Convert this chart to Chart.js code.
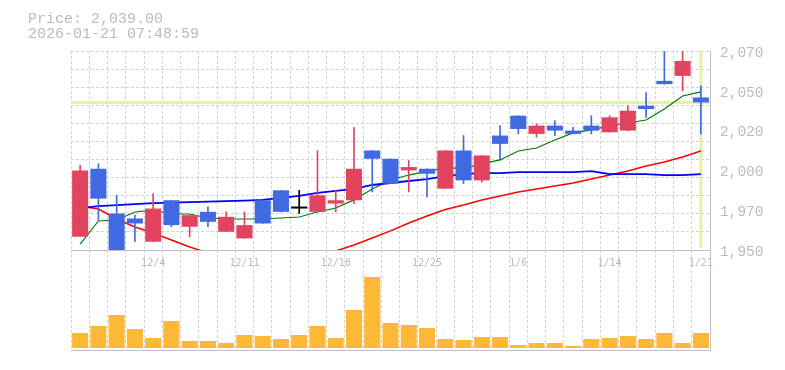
<!DOCTYPE html>
<html>
<head>
<meta charset="utf-8">
<script src="https://cdn.jsdelivr.net/npm/chart.js@4.4.1/dist/chart.umd.min.js"></script>
<style>
  body { margin: 0; background: #fff; }
  #wrap { position: relative; width: 785px; height: 370px; overflow: hidden; }
  #wrap canvas { position: absolute; left: 0; top: 0; }
  .info { position: absolute; left: 28px; font: 15px/15px "Liberation Mono", monospace; color: #bbb; white-space: pre; }
</style>
</head>
<body>
<div id="wrap">
  <canvas id="volChart" width="785" height="370"></canvas>
  <canvas id="priceChart" width="785" height="275"></canvas>
  <div class="info" style="top:12px">Price: 2,039.00</div>
  <div class="info" style="top:27px">2026-01-21 07:48:59</div>
</div>
<script>
// 日付 (営業日)
var dates = ['11/28', '12/1', '12/2', '12/3', '12/4', '12/5', '12/8', '12/9', '12/10', '12/11',
  '12/12', '12/15', '12/16', '12/17', '12/18', '12/19', '12/22', '12/23', '12/24', '12/25',
  '12/26', '12/29', '12/30', '1/5', '1/6', '1/7', '1/8', '1/9', '1/13', '1/14',
  '1/15', '1/16', '1/19', '1/20', '1/21'];
var xTickLabels = ['12/4', '12/11', '12/18', '12/25', '1/6', '1/14', '1/21'];

// 四本値
var openPrices = [1958, 1999, 1972, 1969, 1955, 1980, 1964, 1973, 1961, 1957,
  1980, 1986, 1975, 1973, 1978, 1980, 2010, 2005, 1998, 1999,
  1987, 2010, 1992, 2019, 2031, 2020, 2025, 2022, 2025, 2021,
  2022, 2037, 2052, 2055, 2042];
var highPrices = [2001, 2002, 1983, 1971, 1984, 1980, 1971, 1976, 1973, 1973,
  1980, 1986, 1986, 2010, 1986, 2024, 2010, 2005, 2004, 1999,
  2010, 2019, 2007, 2025, 2031, 2026, 2028, 2024, 2031, 2031,
  2037, 2045, 2078, 2078, 2049];
var lowPrices = [1958, 1968, 1945, 1955, 1955, 1964, 1958, 1964, 1961, 1957,
  1966, 1973, 1972, 1973, 1973, 1978, 1985, 1990, 1985, 1982,
  1987, 1990, 1991, 2004, 2020, 2018, 2019, 2020, 2020, 2021,
  2022, 2030, 2050, 2046, 2020];
var closePrices = [1998, 1981, 1948, 1966, 1975, 1965, 1971, 1967, 1970, 1965,
  1966, 1973, 1975, 1983, 1980, 1999, 2005, 1990, 2000, 1996,
  2010, 1992, 2007, 2014, 2023, 2025, 2022, 2020, 2022, 2030,
  2034, 2035, 2050, 2064, 2039];

// 移動平均
var maShort = [1953.6, 1967.5, 1968.1, 1972.9, 1974.1, 1971.7, 1971.7, 1969.3, 1968.7, 1968.7,
  1968.7, 1969.3, 1969.9, 1972.9, 1975.3, 1980.2, 1986.8, 1992.2, 1995.2, 1997.6,
  1999.4, 1999.4, 2001.9, 2004.3, 2009.7, 2011.5, 2016.3, 2020.6, 2022.4, 2024.8,
  2026.6, 2028.4, 2035.0, 2042.9, 2045.3];
var maMid = [1976.5, 1974.7, 1968.7, 1963.9, 1960.3, 1956.0, 1951.8, 1948.2, 1946.4, 1945.2,
  1944.6, 1944.6, 1945.2, 1946.4, 1949.4, 1953.0, 1957.2, 1961.5, 1966.3, 1970.5,
  1974.4, 1977.1, 1980.2, 1982.6, 1985.0, 1986.8, 1988.6, 1990.4, 1992.8, 1995.2,
  1997.6, 2000.7, 2003.1, 2006.1, 2009.7];
var maLong = [1975.3, 1976.5, 1977.1, 1977.7, 1978.3, 1978.6, 1978.9, 1979.2, 1979.5, 1979.8,
  1980.2, 1981.4, 1982.6, 1984.4, 1985.6, 1986.8, 1989.2, 1990.4, 1991.6, 1992.8,
  1994.6, 1995.8, 1996.4, 1996.4, 1997.0, 1997.0, 1997.0, 1997.0, 1997.6, 1995.8,
  1995.8, 1995.8, 1995.2, 1995.2, 1995.8];

// 出来高
var volumes = [1500, 2200, 3300, 1900, 1000, 2700, 700, 700, 500, 1300,
  1200, 900, 1300, 2200, 1000, 3800, 7100, 2500, 2300, 2000,
  900, 800, 1100, 1100, 300, 500, 500, 200, 900, 1000,
  1200, 900, 1500, 500, 1500];

// 縦軸の目盛
var yTickValues = [1950, 1974, 1998, 2022, 2046, 2070];
var yTickLabels = ['1,950', '1,970', '2,000', '2,020', '2,050', '2,070'];
var currentPrice = 2039;

var upColor = '#e2445f';
var downColor = '#4169e1';
var dojiColor = '#000000';
var gridColor = '#d3d3d3';
var axisColor = '#c0c0c0';
var labelColor = '#bbbbbb';
var markerColor = '#e2f3a6';
var volColor = '#fdb836';

var candleColors = closePrices.map(function (c, i) {
  if (c > openPrices[i]) return upColor;
  if (c < openPrices[i]) return downColor;
  return dojiColor;
});
var wickData = lowPrices.map(function (l, i) { return [l, highPrices[i]]; });
var bodyData = openPrices.map(function (o, i) { return [o, closePrices[i]]; });

// 現在値の線と最終日の線
var markerPlugin = {
  id: 'priceMarker',
  beforeDatasetsDraw: function (chart) {
    var ctx = chart.ctx, area = chart.chartArea;
    var y = chart.scales.y.getPixelForValue(currentPrice);
    var x = chart.scales.x.getPixelForValue(dates.length - 1);
    ctx.save();
    ctx.strokeStyle = markerColor;
    ctx.lineWidth = 3;
    ctx.beginPath();
    ctx.moveTo(area.left, y);
    ctx.lineTo(area.right, y);
    ctx.moveTo(x, area.top);
    ctx.lineTo(x, area.bottom - 2);
    ctx.stroke();
    ctx.restore();
  }
};

var priceChart = new Chart(document.getElementById('priceChart'), {
  type: 'bar',
  data: {
    labels: dates,
    datasets: [
      { type: 'line', data: maLong, borderColor: '#0000ff', borderWidth: 1.8, pointRadius: 0, tension: 0, order: 3 },
      { type: 'line', data: maMid, borderColor: '#ff0000', borderWidth: 1.5, pointRadius: 0, tension: 0, order: 3 },
      { type: 'line', data: maShort, borderColor: '#007a00', borderWidth: 1.2, pointRadius: 0, tension: 0, order: 3 },
      { data: wickData, backgroundColor: candleColors, barThickness: 1, grouped: false, order: 2, clip: 0 },
      { data: bodyData, backgroundColor: candleColors, barPercentage: 0.88, categoryPercentage: 1,
        minBarLength: 2, grouped: false, order: 1, clip: 0 }
    ]
  },
  options: {
    responsive: false,
    animation: false,
    devicePixelRatio: 1,
    layout: { padding: { left: 71, top: 51, right: 0, bottom: 0 } },
    plugins: { legend: { display: false }, tooltip: { enabled: false } },
    scales: {
      x: {
        offset: true,
        grid: { offset: true, color: gridColor, drawTicks: false },
        border: { color: axisColor, dash: [3, 2] },
        ticks: {
          autoSkip: false, maxRotation: 0, padding: 7, color: labelColor,
          font: { family: 'DejaVu Sans Mono', size: 10 },
          callback: function (v, i) { return xTickLabels.indexOf(dates[i]) >= 0 ? dates[i] : ''; }
        },
        afterFit: function (a) { a.height = 25; }
      },
      y: {
        position: 'right', min: 1950, max: 2070,
        grid: { display: false, drawTicks: false },
        border: { color: axisColor },
        afterBuildTicks: function (a) { a.ticks = yTickValues.map(function (v) { return { value: v }; }); },
        ticks: {
          padding: 10, labelOffset: 2, color: labelColor,
          font: { family: 'Liberation Mono', size: 14.5 },
          callback: function (v, i) { return yTickLabels[i]; }
        },
        afterFit: function (a) { a.width = 75; }
      },
      yGrid: {
        position: 'right', min: 1950, max: 2070,
        grid: { color: gridColor, drawTicks: false },
        border: { display: false, dash: [3, 2] },
        afterBuildTicks: function (a) {
          var t = [];
          for (var k = 0; k <= 11; k++) t.push({ value: a.min + (a.max - a.min) * k / 11 });
          a.ticks = t;
        },
        ticks: { display: false },
        afterFit: function (a) { a.width = 0; }
      }
    }
  },
  plugins: [markerPlugin]
});

var volChart = new Chart(document.getElementById('volChart'), {
  type: 'bar',
  data: {
    labels: dates,
    datasets: [
      { data: volumes, backgroundColor: volColor, barPercentage: 0.88, categoryPercentage: 1 }
    ]
  },
  options: {
    responsive: false,
    animation: false,
    devicePixelRatio: 1,
    layout: { padding: { left: 71, top: 250, right: 0, bottom: 0 } },
    plugins: { legend: { display: false }, tooltip: { enabled: false } },
    scales: {
      x: {
        offset: true,
        grid: { offset: true, color: gridColor, drawTicks: false },
        border: { color: axisColor, dash: [3, 2] },
        ticks: { display: false },
        afterFit: function (a) { a.height = 20; }
      },
      y: {
        position: 'right', min: -200, max: 9800,
        grid: { display: false, drawTicks: false },
        border: { color: axisColor },
        ticks: { display: false },
        afterFit: function (a) { a.width = 75; }
      }
    }
  }
});
</script>
</body>
</html>
